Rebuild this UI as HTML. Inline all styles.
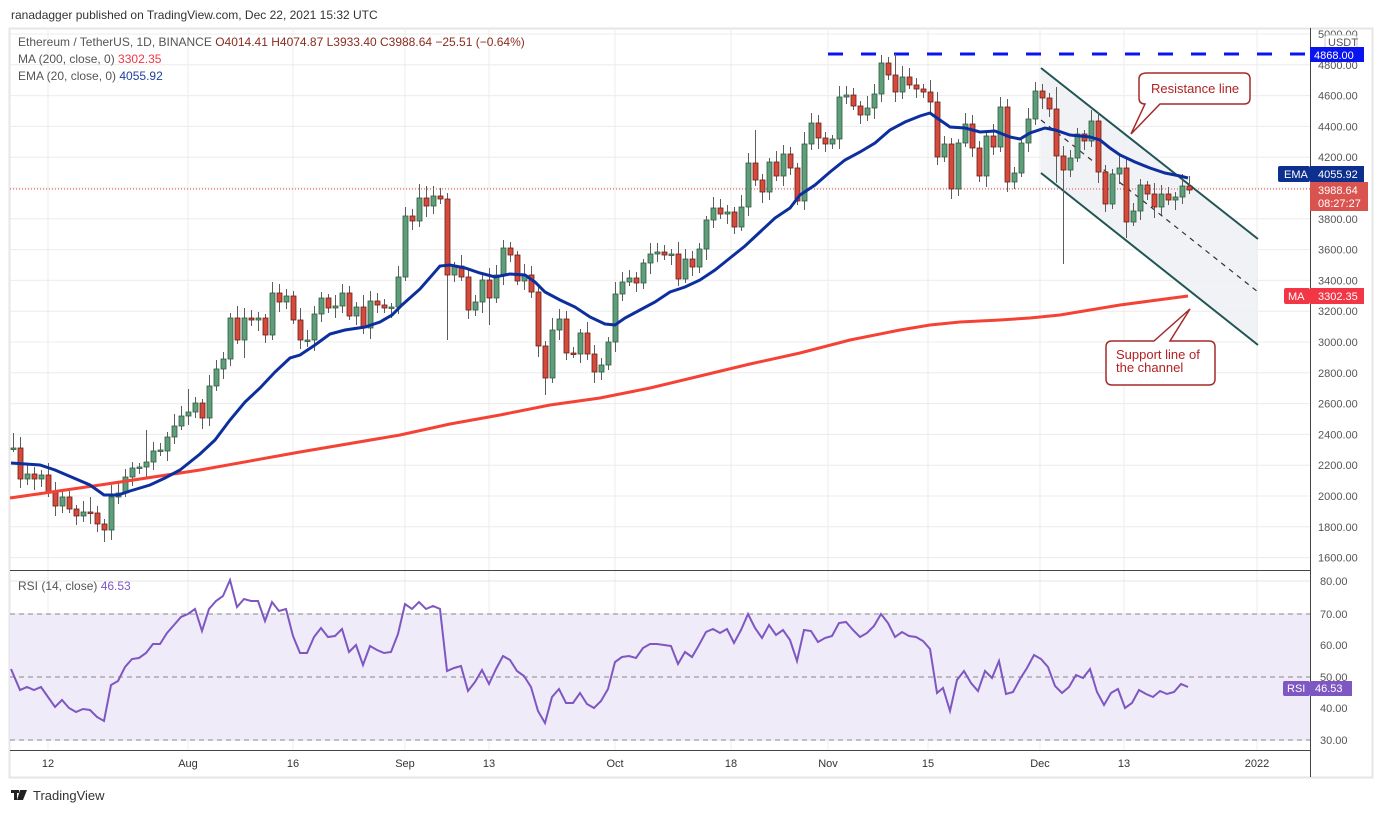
<!DOCTYPE html>
<html><head><meta charset="utf-8">
<style>
html,body{margin:0;padding:0;background:#fff;width:1382px;height:813px;overflow:hidden;font-family:"Liberation Sans","DejaVu Sans",sans-serif;}
svg{position:absolute;left:0;top:0}
</style></head>
<body>
<svg id="s" width="1382" height="813" viewBox="0 0 1382 813" xmlns="http://www.w3.org/2000/svg" font-family="Liberation Sans, DejaVu Sans, sans-serif">
<rect x="0" y="0" width="1382" height="813" fill="#fff"/>
<text x="11" y="19" font-size="12" fill="#333">ranadagger published on TradingView.com, Dec 22, 2021 15:32 UTC</text>
<rect x="9.5" y="28.5" width="1363" height="749" fill="none" stroke="#e6e6e6" stroke-width="2"/>
<g id="grid"></g>
<rect x="10" y="614" width="1300" height="126" fill="#efebf8"/>
<g stroke="#888" stroke-dasharray="5,4" stroke-width="1">
<line x1="10" y1="614" x2="1310" y2="614"/><line x1="10" y1="677" x2="1310" y2="677"/><line x1="10" y1="740" x2="1310" y2="740"/>
</g>
<polygon points="1041,68 1258,239 1258,345 1041,173" fill="#eef0f3" opacity="0.85"/>
<line x1="1041" y1="68" x2="1258" y2="239" stroke="#1f5552" stroke-width="2"/>
<line x1="1041" y1="173" x2="1258" y2="345" stroke="#1f5552" stroke-width="2"/>
<line x1="1041" y1="120" x2="1258" y2="292" stroke="#333" stroke-width="1.2" stroke-dasharray="5,5"/>
<line x1="828" y1="54" x2="1310" y2="54" stroke="#0a14f0" stroke-width="3" stroke-dasharray="15,18"/>
<line x1="10" y1="189" x2="1310" y2="189" stroke="#e0433a" stroke-width="1" stroke-dasharray="1,2"/>
<g id="candles"></g>
<polyline id="ma" fill="none" stroke="#f44336" stroke-width="3"/>
<polyline id="ema" fill="none" stroke="#0d2f9e" stroke-width="3"/>
<polyline id="rsi" fill="none" stroke="#7e57c2" stroke-width="2"/>
<line x1="10" y1="570.5" x2="1310" y2="570.5" stroke="#444" stroke-width="1"/>
<line x1="10" y1="750.5" x2="1310" y2="750.5" stroke="#444" stroke-width="1"/>
<line x1="1310.5" y1="28" x2="1310.5" y2="777" stroke="#444" stroke-width="1"/>
<g id="axis" font-size="11" fill="#555"></g>
<text x="18" y="46" font-size="12" fill="#555">Ethereum / TetherUS, 1D, BINANCE <tspan fill="#8a2b1f">O4014.41  H4074.87  L3933.40  C3988.64  −25.51 (−0.64%)</tspan></text>
<text x="18" y="63" font-size="12" fill="#555">MA (200, close, 0) <tspan fill="#f23645">3302.35</tspan></text>
<text x="18" y="80" font-size="12" fill="#555">EMA (20, close, 0) <tspan fill="#1e3fa0">4055.92</tspan></text>
<text x="18" y="590" font-size="12" fill="#555">RSI (14, close) <tspan fill="#7e57c2">46.53</tspan></text>
<path d="M1147,73 H1244 Q1250,73 1250,79 V98 Q1250,104 1244,104 H1160 L1131,134 L1145,104 Q1139,104 1139,98 V79 Q1139,73 1147,73 Z" fill="#fff" stroke="#a52a2a" stroke-width="1.5"/>
<text x="1151" y="93" font-size="13" fill="#b22222">Resistance line</text>
<path d="M1112,341 H1154 L1190,309 L1170,341 H1209 Q1215,341 1215,347 V379 Q1215,385 1209,385 H1112 Q1106,385 1106,379 V347 Q1106,341 1112,341 Z" fill="#fff" stroke="#a52a2a" stroke-width="1.5"/>
<text x="1116" y="359" font-size="13" fill="#b22222">Support line of</text>
<text x="1116" y="372" font-size="13" fill="#b22222">the channel</text>
<rect x="1325" y="35" width="32" height="14" rx="3" fill="#fff" stroke="#ccc"/>
<text x="1328" y="46" font-size="11" fill="#555">USDT</text>
<rect x="1310" y="47" width="54" height="15" fill="#0a14f0"/>
<text x="1314" y="59" font-size="11" fill="#fff">4868.00</text>
<rect x="1278" y="166" width="32" height="16" rx="2" fill="#0d2f8e"/>
<text x="1284" y="178" font-size="11" fill="#fff">EMA</text>
<rect x="1310" y="166" width="54" height="16" fill="#0d2f8e"/>
<text x="1318" y="178" font-size="11" fill="#fff">4055.92</text>
<rect x="1310" y="182" width="58" height="29" fill="#d9534f"/>
<text x="1318" y="194" font-size="11" fill="#fff">3988.64</text>
<text x="1318" y="207" font-size="11" fill="#fff">08:27:27</text>
<rect x="1284" y="288" width="26" height="16" rx="2" fill="#f23645"/>
<text x="1288" y="300" font-size="11" fill="#fff">MA</text>
<rect x="1310" y="288" width="54" height="16" fill="#f23645"/>
<text x="1318" y="300" font-size="11" fill="#fff">3302.35</text>
<rect x="1283" y="681" width="27" height="15" rx="2" fill="#7e57c2"/>
<text x="1287" y="692" font-size="11" fill="#fff">RSI</text>
<rect x="1310" y="681" width="42" height="15" fill="#7e57c2"/>
<text x="1315" y="692" font-size="11" fill="#fff">46.53</text>
<rect x="11" y="790" width="8" height="3" fill="#222"/><rect x="14" y="790" width="3" height="10" fill="#222"/><polygon points="20,790 27,790 23,800 17,800" fill="#222"/>
<text x="33" y="800" font-size="13" fill="#333">TradingView</text>
</svg>
<script>
(function(){
var NS="http://www.w3.org/2000/svg";
function el(t,a,p){var e=document.createElementNS(NS,t);for(var k in a)e.setAttribute(k,a[k]);(p||document.getElementById('s')).appendChild(e);return e;}
var grid=document.getElementById('grid'),axis=document.getElementById('axis');
var xs=[[48,'12'],[188,'Aug'],[293,'16'],[405,'Sep'],[489,'13'],[615,'Oct'],[731,'18'],[828,'Nov'],[928,'15'],[1040,'Dec'],[1124,'13'],[1257,'2022']];
xs.forEach(function(v){el('line',{x1:v[0],y1:28,x2:v[0],y2:750,stroke:'#ececec'},grid);var t=el('text',{x:v[0],y:767,'text-anchor':'middle','font-size':11,fill:'#333'},axis);t.textContent=v[1];});
for(var p=1600;p<=5000;p+=200){var y=188+(4000-p)*0.154;el('line',{x1:10,y1:y,x2:1310,y2:y,stroke:'#ececec'},grid);var t=el('text',{x:1318,y:y+4},axis);t.textContent=p.toFixed(2);}
[[80,581],[70,614],[60,645],[50,677],[40,708],[30,740]].forEach(function(v){el('line',{x1:10,y1:v[1],x2:1310,y2:v[1],stroke:'#e4e4e4'},grid);var t=el('text',{x:1320,y:v[1]+4},axis);t.textContent=v[0].toFixed(2);});
var D=[[448,448,433],[448,479],[479,474],[474,479],[479,475],[475,492],[492,506],[506,497],[497,509],[509,516],[516,512],[512,513,497],[513,524],[524,530,0,542],[530,497],[497,493],[493,477],[477,468],[468,467],[467,462,430],[462,451],[451,450],[451,437],[437,426],[426,416],[416,412,389],[412,403],[403,418],[418,386],[386,369],[369,359],[359,318],[318,340],[340,318,0,358],[318,320],[320,318],[318,335],[335,293],[293,302],[302,296],[296,320],[320,340],[341,340],[340,314],[314,298],[298,308],[308,306],[306,293],[293,316],[316,307],[307,328],[328,301],[301,305],[305,308],[308,307],[307,277],[277,216],[216,221],[221,198,184],[198,206],[206,196],[196,199],[199,275,0,340],[275,266],[266,277],[277,310],[310,302],[302,280],[280,298,0,325],[298,275],[275,248],[248,255],[255,281],[281,275],[275,292],[292,346],[346,378,0,395],[378,330],[330,319],[319,353],[353,354],[354,333],[333,354],[354,372],[372,365],[365,342],[342,294],[294,282],[282,278],[278,283],[283,263],[263,254],[254,252],[252,255],[255,254],[254,279],[279,259],[259,267],[267,249],[249,220],[220,208],[208,214],[214,212],[212,227],[227,207],[207,163],[163,180,130],[180,192],[192,162],[162,176],[176,154],[154,168],[168,201],[201,144],[144,123],[123,138],[138,144],[144,139],[139,97],[97,95],[95,106],[106,115],[115,108],[108,94],[94,63],[63,75],[75,92,54],[92,77],[77,85],[85,89],[89,92],[92,102],[102,157],[157,144],[144,189],[189,143],[143,124],[124,148],[148,176],[176,136],[136,147],[147,107],[107,182],[182,173],[173,143],[143,119],[119,91],[91,98],[98,109],[109,156,87,183],[156,170,0,264],[170,158],[158,134],[134,141],[141,121],[121,172],[172,204],[204,174],[174,168],[168,222,0,238],[222,211],[211,185],[185,194],[194,207],[207,194],[194,200],[200,197],[197,186],[186,190,176]];
var cg=document.getElementById('candles');
D.forEach(function(d,i){var x=13+7*i,o=d[0],c=d[1],top=Math.min(o,c),bot=Math.max(o,c);
var h=d[2]||top-4-(i*7%9),l=d[3]||bot+4+(i*5%8);var up=c<=o;
el('line',{x1:x+.5,y1:h,x2:x+.5,y2:l,stroke:'#5d5d5d','stroke-width':1},cg);
el('rect',{x:x-2,y:top,width:5,height:Math.max(bot-top,1.5),fill:up?'#5f9e7a':'#d44a3b',stroke:up?'#2f5b40':'#6b1d16','stroke-width':0.8},cg);});
document.getElementById('ema').setAttribute('points','11,463 40,465 55,470 90,485 104,495 118,495 130,491 150,485 165,478 180,470 200,454 215,440 230,420 245,402 260,388 275,372 290,358 300,355 315,345 330,334 345,330 365,327 380,322 392,315 402,305 420,289 440,266 450,265 465,268 480,273 495,277 510,274 525,275 535,282 545,292 560,300 575,307 590,317 605,324 615,325 625,318 640,310 655,302 670,292 685,287 700,280 715,270 730,258 745,246 760,232 775,218 790,208 800,195 815,185 830,172 845,160 860,152 875,143 890,130 905,122 920,116 930,113 937,118 950,127 965,128 980,132 995,131 1010,137 1020,139 1030,133 1045,128 1055,130 1070,135 1080,136 1090,137 1100,140 1110,148 1120,155 1135,162 1150,168 1165,173 1180,176 1188,178');
document.getElementById('ma').setAttribute('points','10,498 100,485 200,470 300,452 400,435 450,424 500,415 550,405 600,398 650,388 700,376 750,364 800,353 850,340 900,330 930,325 960,322 1000,320 1030,318 1060,315 1090,310 1120,305 1150,301 1188,296');
document.getElementById('rsi').setAttribute('points','11,669 20,690 27,687 34,690 41,687 48,697 55,707 62,700 69,708 76,712 83,709 90,710 97,717 104,721 111,685 118,681 125,667 132,659 139,658 146,653 153,644 160,644 167,633 174,625 181,617 188,614 195,609 202,631 209,609 216,601 223,596 230,580 237,607 244,599 251,601 258,601 265,621 272,602 279,611 286,609 293,636 300,653 307,653 314,637 321,628 328,637 335,636 342,629 349,652 356,645 363,665 370,646 377,650 384,653 391,652 398,634 405,604 412,609 419,602 426,609 433,606 440,609 447,671 454,668 461,666 468,691 475,682 482,670 489,684 496,669 503,656 510,660 517,671 524,676 531,687 538,711 545,723 552,697 559,689 566,703 573,703 580,693 587,704 594,708 601,701 608,689 615,662 622,657 629,656 636,658 643,648 650,644 657,644 664,645 671,646 678,664 685,652 692,657 699,645 706,632 713,629 720,633 727,629 734,643 741,630 748,614 755,628 762,638 769,625 776,635 783,630 790,640 797,661 804,630 811,631 818,642 825,638 832,636 839,623 846,622 853,630 860,637 867,633 874,626 881,614 888,623 895,637 902,632 909,636 916,637 923,641 930,649 937,693 943,688 950,711 957,680 964,671 971,683 978,691 985,671 992,678 999,661 1006,694 1013,692 1020,679 1027,668 1034,655 1041,659 1048,667 1055,686 1062,693 1069,687 1076,675 1083,678 1090,669 1097,692 1104,705 1111,693 1118,689 1125,708 1132,703 1139,690 1146,694 1153,697 1160,691 1167,694 1174,692 1181,684 1188,687');
})();
</script>
</body></html>
